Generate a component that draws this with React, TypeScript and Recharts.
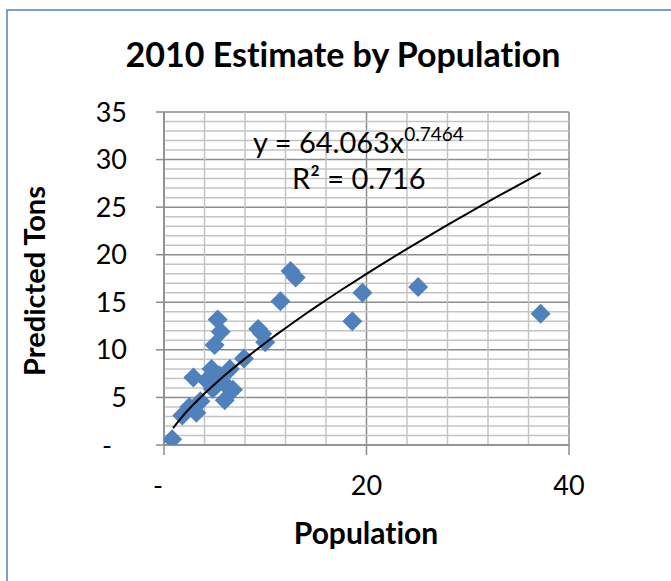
import React from 'react';
import { ScatterChart, Scatter, XAxis, YAxis, CartesianGrid, ReferenceLine } from 'recharts';

const populationValues = [0.8, 1.8, 2.5, 3.2, 2.9, 4.2, 4.7, 4.8, 5.5, 6.0, 6.1, 6.5, 6.8, 5.0, 5.3, 5.6, 7.9, 9.3, 10.0, 9.7, 11.5, 12.5, 13.0, 18.6, 19.6, 25.1, 37.2, 3.6, 5.2];
const tonsValues = [0.6, 3.1, 4.0, 3.4, 7.1, 6.8, 8.0, 5.9, 7.3, 4.7, 6.3, 8.0, 5.8, 10.5, 13.2, 11.9, 9.1, 12.2, 10.8, 11.7, 15.1, 18.3, 17.6, 13.0, 16.0, 16.6, 13.8, 4.6, 6.3];

const trendX = [0.9, 1.2, 1.5, 2, 2.5, 3, 4, 5, 6, 7, 8, 9, 10, 11, 12.5, 14, 15, 16.5, 17.5, 19, 20, 21.5, 22.5, 24, 25, 26.5, 27.5, 29, 30, 31.5, 33, 34, 35, 36, 37.2];
const trendY = [1.78, 2.20, 2.60, 3.23, 3.81, 4.37, 5.42, 6.39, 7.32, 8.21, 9.08, 9.91, 10.72, 11.52, 12.67, 13.79, 14.52, 15.58, 16.29, 17.31, 17.99, 18.99, 19.64, 20.62, 21.25, 22.19, 22.82, 23.75, 24.35, 25.26, 26.15, 26.73, 27.32, 27.90, 28.60];

const xTicks = [0, 20, 40];
const yTicks = [0, 5, 10, 15, 20, 25, 30, 35];
const xMinor = [4, 8, 12, 16, 24, 28, 32, 36];
const yMinor = [1, 2, 3, 4, 6, 7, 8, 9, 11, 12, 13, 14, 16, 17, 18, 19, 21, 22, 23, 24, 26, 27, 28, 29, 31, 32, 33, 34];

const title = '2010 Estimate by Population';
const xTitle = 'Population';
const yTitle = 'Predicted Tons';
const eqMain = 'y = 64.063x';
const eqExp = '0.7464';
const r2Text = 'R² = 0.716';

const points = populationValues.map((x, i) => ({ x, y: tonsValues[i] }));
const trend = trendX.map((x, i) => ({ x, y: trendY[i] }));

const FONT = 'Lato, "Open Sans", sans-serif';
const BLUE = '#4F81BD';
const noLig = { fontVariantLigatures: 'none' as const };

const Diamond = (props: any) => {
  const { cx, cy } = props;
  const r = 10;
  return <polygon points={`${cx},${cy - r} ${cx + r},${cy} ${cx},${cy + r} ${cx - r},${cy}`} fill={BLUE} />;
};

const NoShape = () => <g />;

const YTick = (props: any) => {
  const { x, y, payload } = props;
  const zero = payload.value === 0;
  return (
    <text x={zero ? x - 15 : x} y={y} dy="0.355em" textAnchor="end" fontSize={27} fill="#000" fontFamily={FONT}>
      {zero ? '-' : payload.value}
    </text>
  );
};

const XTick = (props: any) => {
  const { x, y, payload } = props;
  const zero = payload.value === 0;
  return (
    <text x={zero ? x - 6 : x} y={y} dy="0.71em" textAnchor="middle" fontSize={27} fill="#000" fontFamily={FONT}>
      {zero ? '-' : payload.value}
    </text>
  );
};

export default function App() {
  return (
    <div style={{ position: 'absolute', left: 0, top: 0, width: 671, height: 581, background: '#fff', overflow: 'hidden' }}>
      <ScatterChart width={671} height={581} margin={{ top: 112, right: 102, left: 104, bottom: 106 }}>
        <CartesianGrid stroke="#8c8c8c" strokeWidth={1.5} />
        {yMinor.map((v) => (
          <ReferenceLine key={'y' + v} y={v} stroke="#c4c4c4" strokeWidth={1.5} ifOverflow="hidden" />
        ))}
        {xMinor.map((v) => (
          <ReferenceLine key={'x' + v} x={v} stroke="#c4c4c4" strokeWidth={1.5} ifOverflow="hidden" />
        ))}
        <XAxis
          type="number"
          dataKey="x"
          domain={[0, 40]}
          ticks={xTicks}
          interval={0}
          allowDataOverflow
          stroke="#8c8c8c"
          strokeWidth={1.5}
          tickSize={10}
          tickMargin={21}
          height={30}
          tick={<XTick />}
        />
        <YAxis
          type="number"
          dataKey="y"
          domain={[0, 35]}
          ticks={yTicks}
          interval={0}
          allowDataOverflow
          stroke="#8c8c8c"
          strokeWidth={1.5}
          tickSize={8}
          tickMargin={29}
          width={60}
          tick={<YTick />}
        />
        <Scatter data={points} shape={<Diamond />} isAnimationActive={false} />
        <Scatter
          data={trend}
          shape={<NoShape />}
          line={{ stroke: '#000', strokeWidth: 2 }}
          lineType="joint"
          isAnimationActive={false}
        />
      </ScatterChart>
      <svg width={671} height={581} style={{ position: 'absolute', left: 0, top: 0, pointerEvents: 'none' }}>
        <rect x={7} y={10} width={720} height={640} fill="none" stroke={BLUE} strokeWidth={1.5} />
        <text x={343} y={67} textAnchor="middle" fontSize={34} fontWeight={700} fontFamily={FONT} fill="#000" style={noLig}>
          {title}
        </text>
        <text x={366} y={544} textAnchor="middle" fontSize={30} fontWeight={700} fontFamily={FONT} fill="#000" style={noLig}>
          {xTitle}
        </text>
        <text
          x={0}
          y={0}
          transform="translate(45,281) rotate(-90)"
          textAnchor="middle"
          fontSize={29}
          fontWeight={700}
          fontFamily={FONT}
          fill="#000"
          style={noLig}
        >
          {yTitle}
        </text>
        <text x={253} y={153} fontSize={29} fontFamily={FONT} fill="#000">
          {eqMain}
          <tspan fontSize={19} dy={-12}>{eqExp}</tspan>
        </text>
        <text x={292} y={189} fontSize={29} fontFamily={FONT} fill="#000">
          {r2Text}
        </text>
      </svg>
    </div>
  );
}
